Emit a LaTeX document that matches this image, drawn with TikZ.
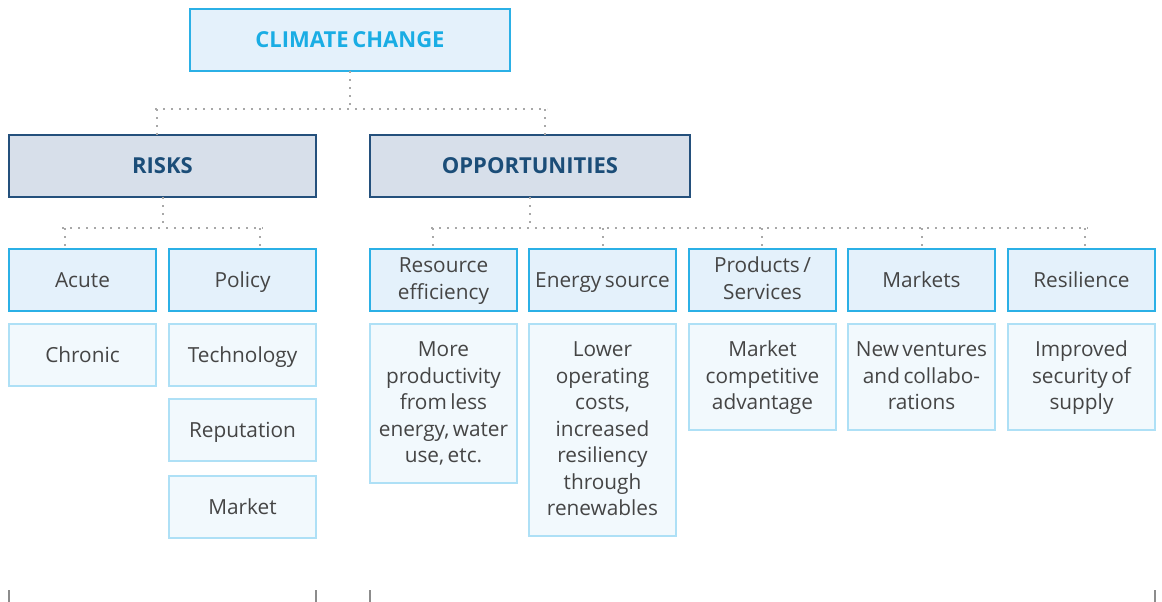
\documentclass[tikz,border=0pt]{standalone}
\usepackage{fontspec}
\setmainfont{Open Sans}[WordSpace=0.65]
\definecolor{txt}{HTML}{454545}
\definecolor{cyanb}{HTML}{2BB0E6}
\definecolor{cyant}{HTML}{1AADE4}
\definecolor{l3fill}{HTML}{E4F1FB}
\definecolor{subb}{HTML}{AEE0F6}
\definecolor{subfill}{HTML}{F2F9FD}
\definecolor{navyb}{HTML}{24507C}
\definecolor{navyt}{HTML}{1B4D78}
\definecolor{catfill}{HTML}{D7DFEA}
\definecolor{dotc}{HTML}{A8A8A8}
\definecolor{tickc}{HTML}{8C8C8C}
\begin{document}
\begin{tikzpicture}[x=1pt,y=-1pt,
  base/.style={draw, line width=1.3pt, anchor=north west, inner sep=0pt, outer sep=0pt, align=center, text=txt, font=\fontsize{20.8}{26.5}\selectfont, text height=17pt, text depth=2pt},
  lines/.style={text height=#1, text depth=5pt},
  topbox/.style={base, draw=cyanb, fill=l3fill, text=cyant, font=\fontsize{22}{26}\selectfont\bfseries, minimum width=320, minimum height=62},
  catbox/.style={base, draw=navyb, fill=catfill, text=navyt, font=\fontsize{22}{26}\selectfont\bfseries, minimum height=62},
  lvlbox/.style={base, draw=cyanb, fill=l3fill, minimum width=147, minimum height=62},
  subbox/.style={base, draw=subb, fill=subfill, minimum width=147},
  conn/.style={draw=dotc, line width=2pt, dash pattern=on 2pt off 6pt},
  tickln/.style={draw=tickc, line width=1.2pt}]
\path[use as bounding box] (0,0) rectangle (1162,602);

% top
\node[topbox] (cc) at (190,9) {CLIMATE CHANGE};
% categories
\node[catbox, minimum width=307] (risks) at (9,135) {RISKS};
\node[catbox, minimum width=320] (opp) at (370,135) {OPPORTUNITIES};
% level 3
\node[lvlbox] (acute) at (9,249) {Acute};
\node[lvlbox] (policy) at (169,249) {Policy};
\node[lvlbox, lines=43.5pt] (resource) at (370,249) {Resource\\efficiency};
\node[lvlbox] (energy) at (529,249) {Energy source};
\node[lvlbox, lines=43.5pt] (products) at (689,249) {Products\,/\\Services};
\node[lvlbox] (markets) at (848,249) {Markets};
\node[lvlbox] (resil) at (1008,249) {Resilience};
% level 4
\node[subbox, minimum height=62] (chronic) at (9,324) {Chronic};
\node[subbox, minimum height=62] (tech) at (169,324) {Technology};
\node[subbox, minimum height=62] (reput) at (169,399) {Reputation};
\node[subbox, minimum height=62] (market) at (169,476) {Market};
\node[subbox, minimum height=159, lines=123pt] (more) at (370,324) {More\\productivity\\from less\\energy, water\\use, etc.};
\node[subbox, minimum height=212, lines=176pt] (lower) at (529,324) {Lower\\operating\\costs,\\increased\\resiliency\\through\\renewables};
\node[subbox, minimum height=106, lines=70pt] (mcomp) at (689,324) {Market\\competitive\\advantage};
\node[subbox, minimum height=106, lines=70pt] (newv) at (848,324) {New ventures\\and collabo-\\rations};
\node[subbox, minimum height=106, lines=70pt] (impr) at (1008,324) {Improved\\security of\\supply};

% connectors top
\coordinate (c1) at (350,109);
\coordinate (c1l) at (155,109);
\coordinate (c1r) at (547,109);
\coordinate (d1l) at (157,109);
\coordinate (d1r) at (545,109);
\draw[conn] (cc.south) -- (c1);
\draw[conn] (c1l) -- (c1r);
\draw[conn] (d1l) -- (d1l |- risks.north);
\draw[conn] (d1r) -- (d1r |- opp.north);

% risks connectors
\coordinate (r1) at (162.5,228);
\coordinate (r1l) at (62,228);
\coordinate (r1r) at (263,228);
\coordinate (ra) at (65,228);
\coordinate (rp) at (260,228);
\draw[conn] (risks.south) -- (r1);
\draw[conn] (r1l) -- (r1r);
\draw[conn] (ra) -- (ra |- acute.north);
\draw[conn] (rp) -- (rp |- policy.north);

% opportunities connectors
\coordinate (o1) at (530,228);
\coordinate (o1l) at (431,228);
\coordinate (o1r) at (1088,228);
\coordinate (oa) at (433,228);
\coordinate (ob) at (603,228);
\coordinate (oc) at (762,228);
\coordinate (od) at (922,228);
\coordinate (oe) at (1085,228);
\draw[conn] (opp.south) -- (o1);
\draw[conn] (o1l) -- (o1r);
\draw[conn] (oa) -- (oa |- resource.north);
\draw[conn] (ob) -- (ob |- energy.north);
\draw[conn] (oc) -- (oc |- products.north);
\draw[conn] (od) -- (od |- markets.north);
\draw[conn] (oe) -- (oe |- resil.north);

% bottom ticks
\draw[tickln] (acute.west |- 0,590) -- (acute.west |- 0,602);
\draw[tickln] (policy.east |- 0,590) -- (policy.east |- 0,602);
\draw[tickln] (resource.west |- 0,590) -- (resource.west |- 0,602);
\draw[tickln] (resil.east |- 0,590) -- (resil.east |- 0,602);
\end{tikzpicture}
\end{document}
